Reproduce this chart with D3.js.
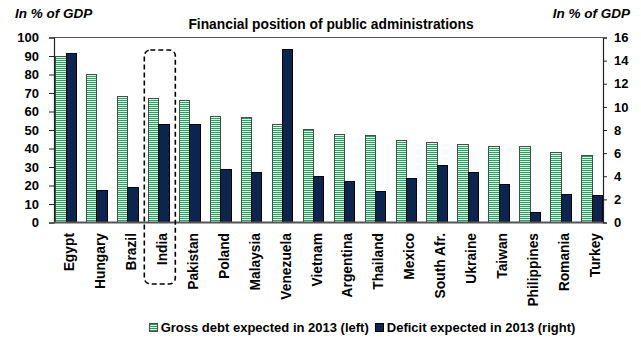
<!DOCTYPE html>
<html>
<head>
<meta charset="utf-8">
<script src="https://cdn.jsdelivr.net/npm/d3@7/dist/d3.min.js"></script>
<style>
  html, body { margin: 0; padding: 0; background: #fff; }
  svg { display: block; font-family: "Liberation Sans", Arial, sans-serif; }
  text { fill: #000; font-weight: bold; }
</style>
</head>
<body>
<svg id="chart" width="641" height="339"></svg>
<script>
// Countries along the category axis
const countries = ["Egypt", "Hungary", "Brazil", "India", "Pakistan", "Poland", "Malaysia",
  "Venezuela", "Vietnam", "Argentina", "Thailand", "Mexico", "South Afr.", "Ukraine",
  "Taiwan", "Philippines", "Romania", "Turkey"];

// Gross debt expected in 2013, % of GDP (left axis)
const grossDebt = [89.5, 80, 68, 67, 66, 57.4, 56.8, 53.1, 50.4, 47.5, 46.9, 44.1, 43, 42.4, 41.2, 41, 38.1, 36];

// Deficit expected in 2013, % of GDP (right axis)
const deficit = [14.6, 2.75, 3.0, 8.45, 8.45, 4.6, 4.3, 14.95, 4.0, 3.55, 2.7, 3.8, 4.95, 4.3, 3.25, 0.85, 2.4, 2.3];

// Tick values for both value axes
const leftTicks = [0, 10, 20, 30, 40, 50, 60, 70, 80, 90, 100];
const rightTicks = [0, 2, 4, 6, 8, 10, 12, 14, 16];

const title = "Financial position of public administrations";
const unitLabel = "In % of GDP";
const legendLabels = ["Gross debt expected in 2013 (left)", "Deficit expected in 2013 (right)"];
const highlighted = "India";

const svg = d3.select("#chart");

const plot = { left: 54, right: 603, top: 37.5, bottom: 222.5 };
const barW = 10.3;

const x = d3.scalePoint().domain(countries).range([plot.left + 12, plot.right - 11]);
const yL = d3.scaleLinear().domain([0, 100]).range([plot.bottom, plot.top]);
const yR = d3.scaleLinear().domain([0, 16]).range([plot.bottom, plot.top]);

// Striped fill for the gross debt bars
const defs = svg.append("defs");
const pat = defs.append("pattern")
  .attr("id", "stripes").attr("patternUnits", "userSpaceOnUse")
  .attr("width", 4).attr("height", 2);
pat.append("rect").attr("width", 4).attr("height", 2).attr("fill", "#dff5e7");
pat.append("rect").attr("width", 4).attr("height", 1).attr("fill", "#1fa65c");

const navy = "#0b2450";

// Plot frame top line
svg.append("line")
  .attr("x1", plot.left).attr("x2", plot.right)
  .attr("y1", plot.top).attr("y2", plot.top)
  .attr("stroke", "#555").attr("stroke-width", 1);

// Bars
const g = svg.append("g").attr("shape-rendering", "crispEdges");
g.selectAll("rect.debt").data(countries).join("rect")
  .attr("class", "debt")
  .attr("x", (d) => x(d) - barW)
  .attr("y", (d, i) => yL(grossDebt[i]))
  .attr("width", barW)
  .attr("height", (d, i) => yL(0) - yL(grossDebt[i]))
  .attr("fill", "url(#stripes)")
  .attr("stroke", "#4a4a4a").attr("stroke-width", 1);

g.selectAll("rect.deficit").data(countries).join("rect")
  .attr("class", "deficit")
  .attr("x", (d) => x(d))
  .attr("y", (d, i) => yR(deficit[i]))
  .attr("width", barW)
  .attr("height", (d, i) => yR(0) - yR(deficit[i]))
  .attr("fill", navy)
  .attr("stroke", "#000").attr("stroke-width", 1);

// Left value axis
const axL = svg.append("g")
  .attr("transform", `translate(${plot.left},0)`)
  .call(d3.axisLeft(yL).tickValues(leftTicks).tickSize(5).tickPadding(10));
// Right value axis
const axR = svg.append("g")
  .attr("transform", `translate(${plot.right},0)`)
  .call(d3.axisRight(yR).tickValues(rightTicks).tickSize(4).tickPadding(7));

[axL, axR].forEach((ax) => {
  ax.select(".domain").attr("stroke", "#222").attr("stroke-width", 1.2);
  ax.selectAll(".tick line").attr("stroke", "#222");
  ax.selectAll(".tick text")
    .attr("font-size", 13).attr("font-weight", "bold")
    .attr("font-family", "Liberation Sans, Arial, sans-serif").attr("fill", "#000");
});

// Category baseline
svg.append("line")
  .attr("x1", plot.left).attr("x2", plot.right)
  .attr("y1", plot.bottom).attr("y2", plot.bottom)
  .attr("stroke", "#555").attr("stroke-width", 2);

// Category labels, rotated
svg.append("g").selectAll("text").data(countries).join("text")
  .attr("transform", (d) => `translate(${x(d) + 8},233) rotate(-90)`)
  .attr("text-anchor", "end")
  .attr("font-size", 13.8)
  .text((d) => d);

// Dashed outline around the highlighted country
const hx = x(highlighted);
svg.append("rect")
  .attr("x", hx - 14.5).attr("y", 50)
  .attr("width", 31).attr("height", 234)
  .attr("rx", 6).attr("ry", 6)
  .attr("fill", "none").attr("stroke", "#000")
  .attr("stroke-width", 1.6).attr("stroke-dasharray", "5,3");

// Titles
svg.append("text").attr("x", 331).attr("y", 29)
  .attr("text-anchor", "middle").attr("font-size", 13.8).text(title);
svg.append("text").attr("x", 15).attr("y", 18)
  .attr("font-size", 13.5).attr("font-style", "italic").text(unitLabel);
svg.append("text").attr("x", 630).attr("y", 18).attr("text-anchor", "end")
  .attr("font-size", 13.5).attr("font-style", "italic").text(unitLabel);

// Legend
const legend = svg.append("g");
const fills = ["url(#stripes)", navy];
const strokes = ["#4a4a4a", "#000"];
let cursor = 0;
legendLabels.forEach((lab, i) => {
  const item = legend.append("g").attr("transform", `translate(${cursor},0)`);
  item.append("rect").attr("x", 0).attr("y", -8.5).attr("width", 8).attr("height", 8)
    .attr("fill", fills[i]).attr("stroke", strokes[i]).attr("shape-rendering", "crispEdges");
  const t = item.append("text").attr("x", 11).attr("y", 0).attr("font-size", 13).text(lab);
  cursor += 11 + t.node().getComputedTextLength() + 7;
});
const legendW = cursor - 7;
legend.attr("transform", `translate(${362.5 - legendW / 2},332)`);
</script>
</body>
</html>
